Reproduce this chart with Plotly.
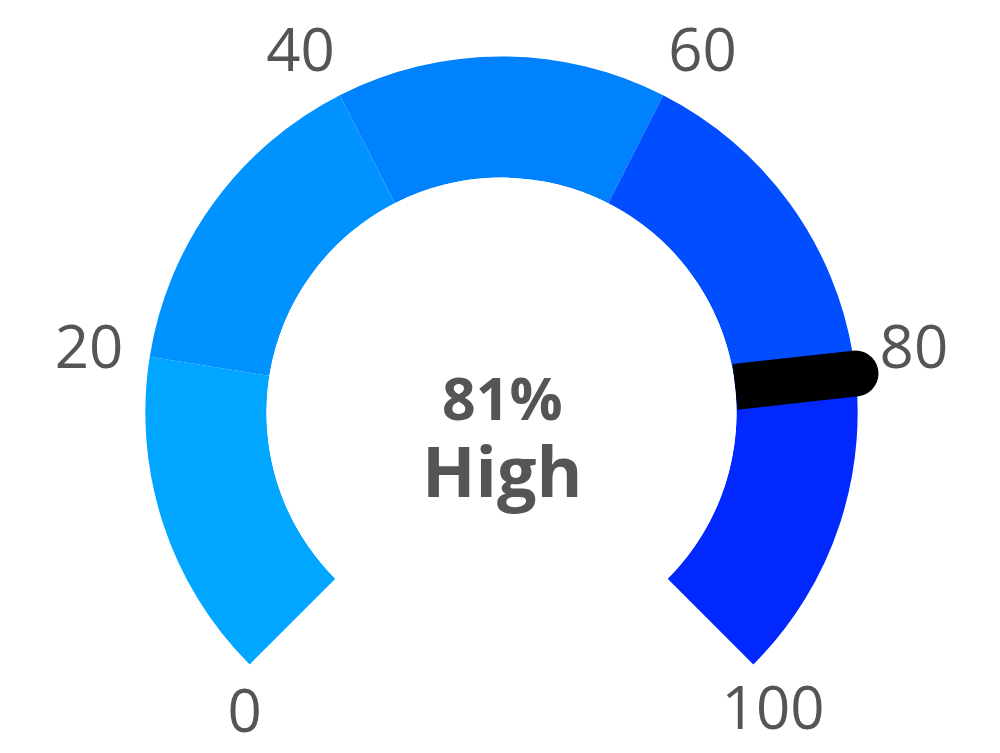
import plotly.graph_objects as go

# gauge bands (value scale 0-100)
band_starts = [0, 20, 40, 60, 80]
band_ends = [20, 40, 60, 80, 100]
band_colors = ["#00A6FF", "#0093FF", "#0082FF", "#004EFF", "#0028FF"]
tick_values = [0, 20, 40, 60, 80, 100]
tick_labels = ["0", "20", "40", "60", "80", "100"]

value = 81
value_label = "High"

SPAN = 270.0       # degrees the gauge covers
HOLE_UNITS = 1.94  # inner radius, in ring-thickness units
R_MAX = 1.3        # radial room kept outside the ring for the labels
# where each scale label sits (ring runs 0..1) and how it is anchored
label_r = [1.26, 1.22, 1.09, 1.09, 1.22, 1.23]
label_pos = ["bottom right", "middle left", "top left",
             "top right", "middle right", "bottom center"]


def to_deg(v):
    return v / 100.0 * SPAN


fig = go.Figure()

fig.add_trace(go.Barpolar(
    theta=[to_deg((a + b) / 2) for a, b in zip(band_starts, band_ends)],
    width=[to_deg(b - a) for a, b in zip(band_starts, band_ends)],
    r=[1] * len(band_starts),
    base=0,
    marker=dict(color=band_colors, line=dict(width=0)),
    hoverinfo="skip",
    showlegend=False,
))

# needle
fig.add_trace(go.Scatterpolar(
    theta=[to_deg(value), to_deg(value)],
    r=[0, 1],
    mode="lines",
    line=dict(color="black", width=46),
    cliponaxis=False,
    hoverinfo="skip",
    showlegend=False,
))
fig.add_trace(go.Scatterpolar(
    theta=[to_deg(value)],
    r=[1],
    mode="markers",
    marker=dict(color="black", size=46, line=dict(width=0)),
    cliponaxis=False,
    hoverinfo="skip",
    showlegend=False,
))

# scale labels
fig.add_trace(go.Scatterpolar(
    theta=[to_deg(t) for t in tick_values],
    r=label_r,
    mode="text",
    text=tick_labels,
    textposition=label_pos,
    textfont=dict(size=60, color="#555555", family="Open Sans"),
    cliponaxis=False,
    hoverinfo="skip",
    showlegend=False,
))

fig.update_layout(
    width=1000, height=753,
    margin=dict(l=101, r=114, t=12, b=66),
    paper_bgcolor="white",
    font=dict(family="Open Sans", color="#555555"),
    polar=dict(
        domain=dict(x=[0, 1], y=[0, 1]),
        sector=[-46, 226],
        hole=HOLE_UNITS / (HOLE_UNITS + R_MAX),
        bgcolor="white",
        radialaxis=dict(range=[0, R_MAX], visible=False, showgrid=False),
        angularaxis=dict(
            direction="clockwise",
            rotation=225,
            thetaunit="degrees",
            showticklabels=False,
            showgrid=False,
            showline=False,
            ticks="",
        ),
    ),
)

# value readout in the middle of the dial
fig.add_annotation(
    text="<b>%d%%</b><br><b><span style='font-size:70px'>%s</span></b>" % (value, value_label),
    x=0.5, y=0.381, xref="paper", yref="paper",
    yanchor="middle", showarrow=False,
    font=dict(size=59, color="#555555", family="Open Sans"),
)

fig.write_html("out.html")
